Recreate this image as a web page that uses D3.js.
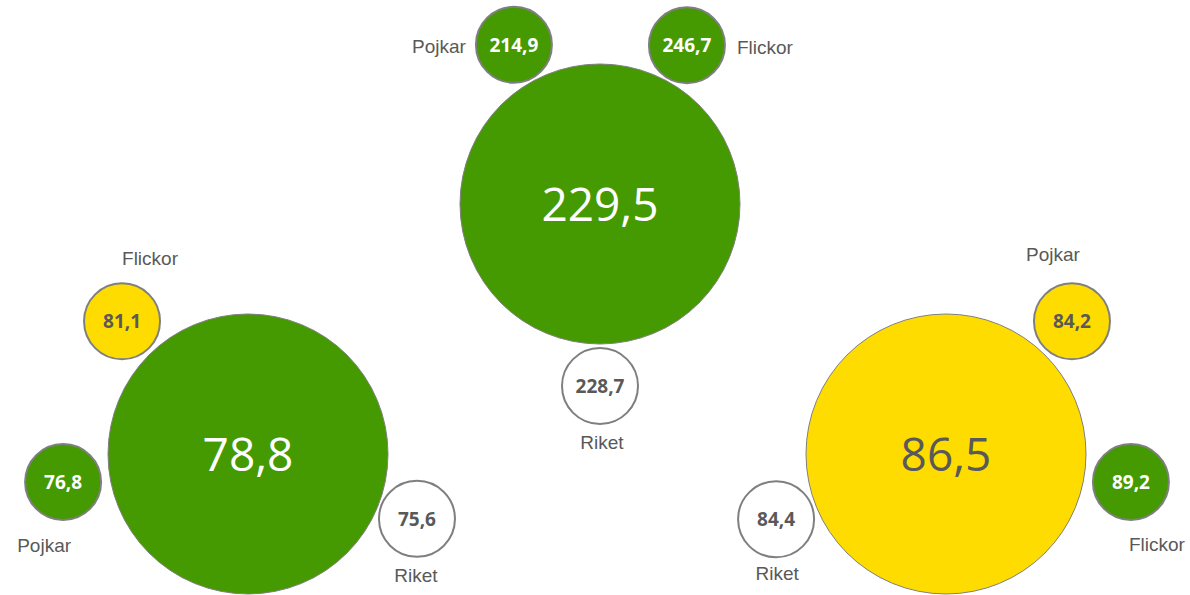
<!DOCTYPE html>
<html>
<head>
<meta charset="utf-8">
<script src="https://cdn.jsdelivr.net/npm/d3@7"></script>
<style>
  html, body { margin: 0; padding: 0; background: #fff; }
</style>
</head>
<body>
<div id="chart"></div>
<script>
// three measures, each with a total and three comparison bubbles
const groups = ["left", "center", "right"];
const totals = [78.8, 229.5, 86.5];
const totalStatus = ["good", "good", "mid"];
const satNames = [
  ["Flickor", "Pojkar", "Riket"],
  ["Pojkar", "Flickor", "Riket"],
  ["Pojkar", "Flickor", "Riket"]
];
const satValues = [
  [81.1, 76.8, 75.6],
  [214.9, 246.7, 228.7],
  [84.2, 89.2, 84.4]
];
const satStatus = [
  ["mid", "good", "ref"],
  ["good", "good", "ref"],
  ["mid", "good", "ref"]
];

(() => {
  const width = 1190, height = 595;
  const bigR = 140, smallR = 38;

  // layout: group centre, satellite angles (deg), orbit distances and label offsets
  const layout = {
    left:   { cx: 248, cy: 454, angles: [-133.5, 171.4, 21], orbits: [183, 187, 181],
              labels: [[28, -63, "middle"], [-19, 63, "middle"], [-1, 56, "middle"]] },
    center: { cx: 600, cy: 204, angles: [-118.4, -61.3, 90], orbits: [181, 181, 182],
              labels: [[-48, 2, "end"], [50, 2, "start"], [2, 56, "middle"]] },
    right:  { cx: 946, cy: 454, angles: [-46.5, 8.6, 159], orbits: [183, 187, 182],
              labels: [[-19, -67, "middle"], [26, 62, "middle"], [1, 54, "middle"]] }
  };

  const fill = d3.scaleOrdinal().domain(["good", "mid", "ref"]).range(["#449a00", "#ffdc00", "#ffffff"]);
  const ink = d3.scaleOrdinal().domain(["good", "mid", "ref"]).range(["#ffffff", "#595959", "#595959"]);
  const fmt = v => d3.format(".1f")(v).replace(".", ",");

  const svg = d3.select("#chart").append("svg")
    .attr("width", width).attr("height", height);

  const data = groups.map((g, i) => ({
    key: g, value: totals[i], status: totalStatus[i],
    sats: satNames[i].map((n, j) => ({
      name: n, value: satValues[i][j], status: satStatus[i][j],
      angle: layout[g].angles[j] * Math.PI / 180, orbit: layout[g].orbits[j],
      label: layout[g].labels[j]
    }))
  }));

  const grp = svg.selectAll(".group").data(data).enter().append("g")
    .attr("class", "group")
    .attr("transform", d => `translate(${layout[d.key].cx},${layout[d.key].cy})`);

  grp.append("circle")
    .attr("r", bigR)
    .attr("fill", d => fill(d.status))
    .attr("stroke", "#7f7f7f")
    .attr("stroke-width", 1);

  grp.append("text")
    .attr("text-anchor", "middle")
    .attr("dy", "0.36em")
    .style("font-family", "'Open Sans', sans-serif")
    .style("font-size", "46px")
    .attr("fill", d => ink(d.status))
    .text(d => fmt(d.value));

  const sat = grp.selectAll(".sat").data(d => d.sats).enter().append("g")
    .attr("class", "sat")
    .attr("transform", d => `translate(${d.orbit * Math.cos(d.angle)},${d.orbit * Math.sin(d.angle)})`);

  sat.append("circle")
    .attr("r", smallR)
    .attr("fill", d => fill(d.status))
    .attr("stroke", "#7f7f7f")
    .attr("stroke-width", 2);

  sat.append("text")
    .attr("text-anchor", "middle")
    .attr("dy", "0.36em")
    .style("font-family", "'Open Sans', sans-serif")
    .style("font-weight", "bold")
    .style("font-size", "19px")
    .attr("fill", d => ink(d.status))
    .text(d => fmt(d.value));

  sat.append("text")
    .attr("x", d => d.label[0])
    .attr("y", d => d.label[1])
    .attr("dy", "0.35em")
    .attr("text-anchor", d => d.label[2])
    .style("font-family", "'Liberation Sans', Arial, sans-serif")
    .style("font-size", "19px")
    .attr("fill", "#595959")
    .text(d => d.name);
})();
</script>
</body>
</html>
